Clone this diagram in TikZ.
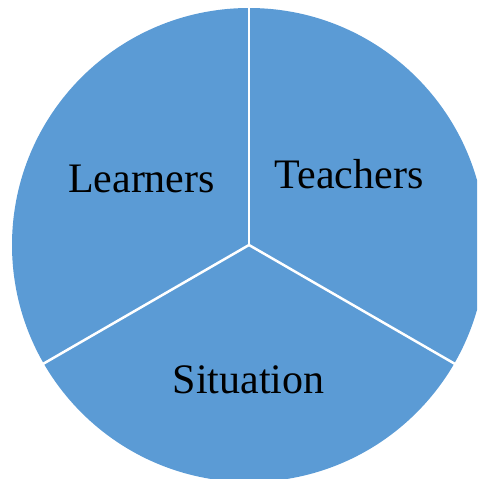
\documentclass[tikz,border=0pt]{standalone}
\usepackage{fontspec}
\setmainfont{Liberation Serif}
\definecolor{pieblue}{HTML}{5B9BD5}
\begin{document}
\begin{tikzpicture}[x=1pt,y=1pt,
  divider/.style={draw=white,line width=2.5pt},
  label/.style={anchor=base,font=\fontsize{42}{50}\selectfont,text=black,inner sep=0pt}]
\useasboundingbox (0,0) rectangle (477,-479);
\clip (0,0) rectangle (477,-479);
% pie body
\coordinate (c) at (249,-245);
\fill[pieblue] (c) circle (237);
% sector boundaries
\path (c) ++(90:238) coordinate (t) (c) ++(210:238) coordinate (bl) (c) ++(330:238) coordinate (br);
\draw[divider] (c) -- (t);
\draw[divider] (c) -- (bl);
\draw[divider] (c) -- (br);
% sector labels
\node[label] (learners) at (141.5,-192) {Learners};
\node[label] (teachers) at (349,-188) {Teachers};
\node[label] (situation) at (248.5,-393) {Situation};
\end{tikzpicture}
\end{document}
